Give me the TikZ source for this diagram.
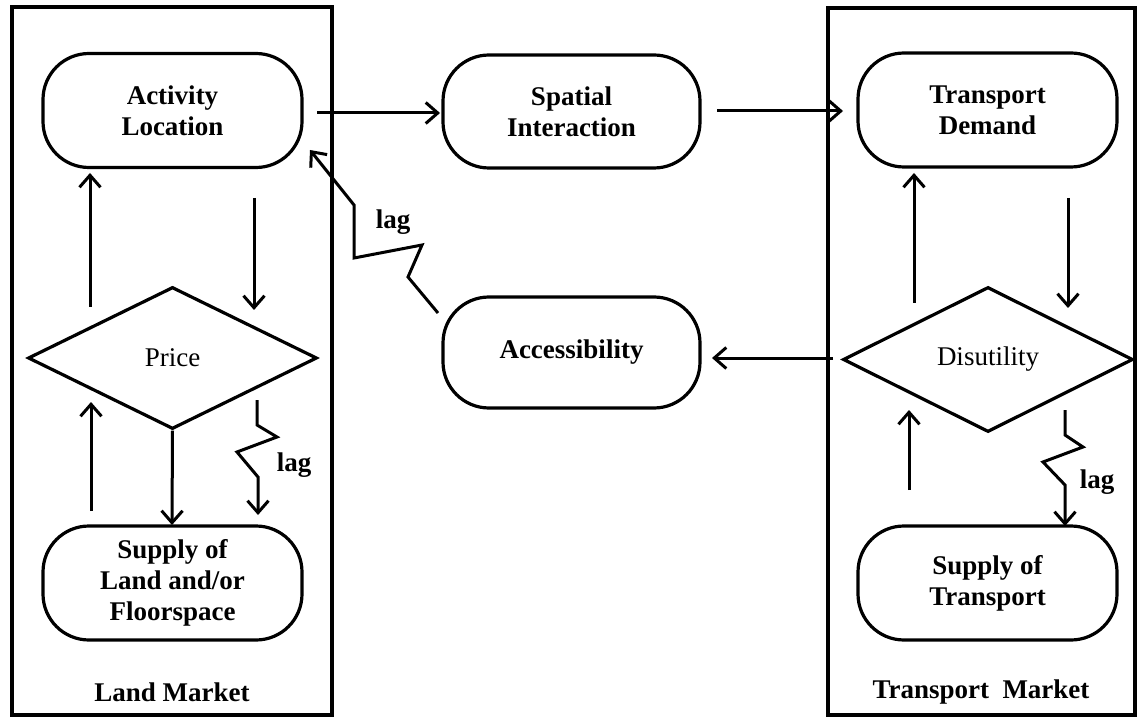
\documentclass[tikz,border=0pt]{standalone}
\usepackage{fontspec}
\setmainfont{Liberation Serif}
\usetikzlibrary{shapes.geometric,arrows.meta}
\begin{document}
\begin{tikzpicture}[x=1pt,y=-1pt,
  frame/.style={draw, line width=3.6pt, inner sep=0pt},
  term/.style={draw, line width=3.2pt, rounded corners=46pt, align=center,
    font=\bfseries\fontsize{27}{31}\selectfont, inner sep=0pt, minimum width=259pt, minimum height=114pt},
  dia/.style={draw, diamond, line width=3.2pt, inner sep=0pt, aspect=2,
    font=\fontsize{27}{31}\selectfont},
  arr/.style={line width=3pt, -{Straight Barb[length=12pt,width=21pt,line width=3pt]}},
  lbl/.style={font=\bfseries\fontsize{27}{31}\selectfont, inner sep=0pt}]
\useasboundingbox (0,0) rectangle (1143,719);
% market frames
\node[frame, minimum width=320pt, minimum height=708pt] (landbox) at (172,361) {};
\node[frame, minimum width=307pt, minimum height=707pt] (transbox) at (981.5,361.5) {};
% nodes
\node[term] (act) at (172.5,110.5) {Activity\\Location};
\node[term, minimum width=257pt, minimum height=113pt] (spatial) at (571.5,111.5) {Spatial\\Interaction};
\node[term] (demand) at (987.5,110) {Transport\\Demand};
\node[dia, minimum width=289pt, minimum height=142pt] (price) at (172.5,358) {Price};
\node[term, minimum width=257pt, minimum height=111pt] (access) at (571.5,352.5) {\textbf{Accessibility}};
\node[dia, minimum width=290pt, minimum height=145pt] (disutil) at (988,359.5) {Disutility};
\node[term] (supland) at (172.5,583) {Supply of\\Land and/or\\Floorspace};
\node[term] (suptrans) at (987.5,583) {Supply of\\Transport};
\node[lbl] (landlbl) at (172,692) {Land Market};
\node[lbl] (translbl) at (981,692) {Transport\ \ Market};
% free-end coordinates
\coordinate (a1) at (317,113);  \coordinate (a2) at (440,113);
\coordinate (b1) at (717,111);  \coordinate (b2) at (843,111);
\coordinate (c1) at (833,358);  \coordinate (c2) at (712,358);
\coordinate (lu1) at (90,307);  \coordinate (lu2) at (90,173);
\coordinate (ld1) at (254,198); \coordinate (ld2) at (254,310);
\coordinate (llu1) at (91,511); \coordinate (llu2) at (91,402);
\coordinate (lld2) at (172,525);
\coordinate (ru1) at (914,303); \coordinate (ru2) at (914,173);
\coordinate (rd1) at (1068,198);\coordinate (rd2) at (1068,308);
\coordinate (rlu1) at (909,490);\coordinate (rlu2) at (909,410);
% arrows
\draw[arr] (a1) -- (a2);
\draw[arr] (b1) -- (b2);
\draw[arr] (c1) -- (c2);
\draw[arr] (lu1) -- (lu2);
\draw[arr] (ld1) -- (ld2);
\draw[arr] (llu1) -- (llu2);
\draw[arr] (price.south) -- (lld2);
\draw[arr] (ru1) -- (ru2);
\draw[arr] (rd1) -- (rd2);
\draw[arr] (rlu1) -- (rlu2);
% lag zigzags
\coordinate (z1s) at (257,400);
\coordinate (z1e) at (258,515);
\draw[arr, line join=miter] (z1s) -- (257,425) -- (277,437) -- (237,452) -- (258,477) -- (z1e);
\node[lbl] (lag1) at (294,465) {lag};
\coordinate (z2s) at (1065,410);
\coordinate (z2e) at (1065,526);
\draw[arr, line join=miter] (z2s) -- (1065,435) -- (1083,447) -- (1043,462) -- (1065,485) -- (z2e);
\node[lbl] (lag2) at (1097,482) {lag};
\coordinate (z3s) at (438,313);
\coordinate (z3e) at (310,150);
\draw[arr, line join=miter] (z3s) -- (408,277) -- (422,245) -- (354,258) -- (354,205) -- (z3e);
\node[lbl] (lag3) at (393,222) {lag};
\end{tikzpicture}
\end{document}
